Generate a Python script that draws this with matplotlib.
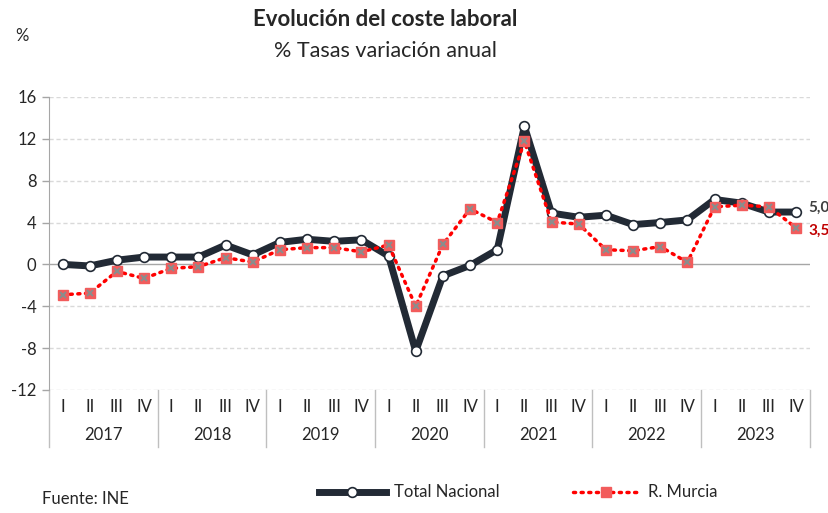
import matplotlib
matplotlib.use("Agg")
import matplotlib.pyplot as plt
import matplotlib.transforms as mtransforms
import numpy as np

plt.rcParams['font.family'] = ['Lato', 'DejaVu Sans']
plt.rcParams['axes.unicode_minus'] = False

# --- data ---
years = ['2017', '2018', '2019', '2020', '2021', '2022', '2023']
quarters = ['I', 'II', 'III', 'IV']

total_nacional = [0.0, -0.15, 0.4, 0.7,
                  0.7, 0.7, 1.85, 0.9,
                  2.1, 2.4, 2.2, 2.35,
                  0.8, -8.3, -1.1, -0.1,
                  1.4, 13.2, 4.9, 4.5,
                  4.7, 3.8, 4.0, 4.25,
                  6.2, 5.85, 5.0, 5.0]
murcia = [-2.9, -2.75, -0.67, -1.34,
          -0.38, -0.22, 0.64, 0.22,
          1.4, 1.6, 1.6, 1.2,
          1.85, -4.0, 1.9, 5.3,
          4.0, 11.75, 4.05, 3.85,
          1.4, 1.3, 1.7, 0.2,
          5.5, 5.65, 5.5, 3.5]
yticks = [-12, -8, -4, 0, 4, 8, 12, 16]

x = np.arange(len(total_nacional))

fig = plt.figure(figsize=(8.29, 5.13), dpi=100)
ax = fig.add_axes([0.0591, 0.2398, 0.9175, 0.5713])

# gridlines
for yv in yticks:
    if yv == 0:
        ax.axhline(0, color='#a6a6a6', lw=1.0, zorder=1)
    else:
        ax.axhline(yv, color='#d9d9d9', lw=1.0, ls=(0, (3, 2)), zorder=1)

# series
l_tot, = ax.plot(x, total_nacional, color='#222a35', lw=5, zorder=3,
                 marker='o', markersize=7, markerfacecolor='white',
                 markeredgecolor='#222a35', markeredgewidth=1.2, label='Total Nacional')
l_mur, = ax.plot(x, murcia, color='#ff0000', lw=2.5, ls=(0, (0.6, 1.6)),
                 dash_capstyle='round', zorder=4,
                 marker='s', markersize=7, markerfacecolor='#f25c5c',
                 markeredgecolor='#f25c5c', label='R. Murcia')
ax.plot(x, murcia, ls='none', marker='x', markersize=4.5,
        markeredgecolor='#8c8c8c', markeredgewidth=1.5, zorder=5)

# end labels
ax.annotate(f"{total_nacional[-1]:.1f}".replace('.', ','), (x[-1], total_nacional[-1]),
            xytext=(9, 3), textcoords='offset points', fontsize=11,
            fontweight='bold', color='#404040', va='center', annotation_clip=False)
ax.annotate(f"{murcia[-1]:.1f}".replace('.', ','), (x[-1], murcia[-1]),
            xytext=(9, -2), textcoords='offset points', fontsize=11,
            fontweight='bold', color='#c00000', va='center', annotation_clip=False)

ax.set_xlim(-0.5, len(x) - 0.5)
ax.set_ylim(-12, 16)
ax.set_yticks(yticks)
ax.tick_params(axis='y', labelsize=12, length=5, width=1,
               color='#a6a6a6', pad=4, labelcolor='#262626')
for s in ['top', 'right', 'bottom']:
    ax.spines[s].set_visible(False)
ax.spines['left'].set_color('#a6a6a6')
ax.set_xticks([])

# two-level category axis
trans = mtransforms.blended_transform_factory(ax.transData, ax.transAxes)
for i in range(len(x)):
    ax.text(x[i], -0.058, quarters[i % 4], transform=trans, ha='center', va='center',
            fontsize=12, color='#262626')
for k, yr in enumerate(years):
    ax.text(4 * k + 1.5, -0.155, yr, transform=trans, ha='center', va='center',
            fontsize=12, color='#262626')
for k in range(len(years) + 1):
    ax.plot([4 * k - 0.5, 4 * k - 0.5], [0, -0.195], transform=trans,
            color='#bfbfbf', lw=1, clip_on=False)

# titles and notes
fig.text(0.465, 0.962, 'Evolución del coste laboral', ha='center', va='center',
         fontsize=16, fontweight='bold', color='#262626')
fig.text(0.465, 0.900, '% Tasas variación anual', ha='center', va='center',
         fontsize=15.5, color='#262626')
fig.text(0.027, 0.93, '%', ha='center', va='center', fontsize=12, color='#262626')
fig.text(0.051, 0.012, 'Fuente: INE', ha='left', va='bottom', fontsize=12, color='#262626')

# legend
leg = fig.legend(handles=[l_tot, l_mur], loc='center', bbox_to_anchor=(0.625, 0.04),
                 ncol=2, frameon=False, fontsize=12, handlelength=4.0,
                 columnspacing=4.4, handletextpad=0.5)
for t in leg.get_texts():
    t.set_color('#262626')

fig.savefig('out.png', dpi=100)
